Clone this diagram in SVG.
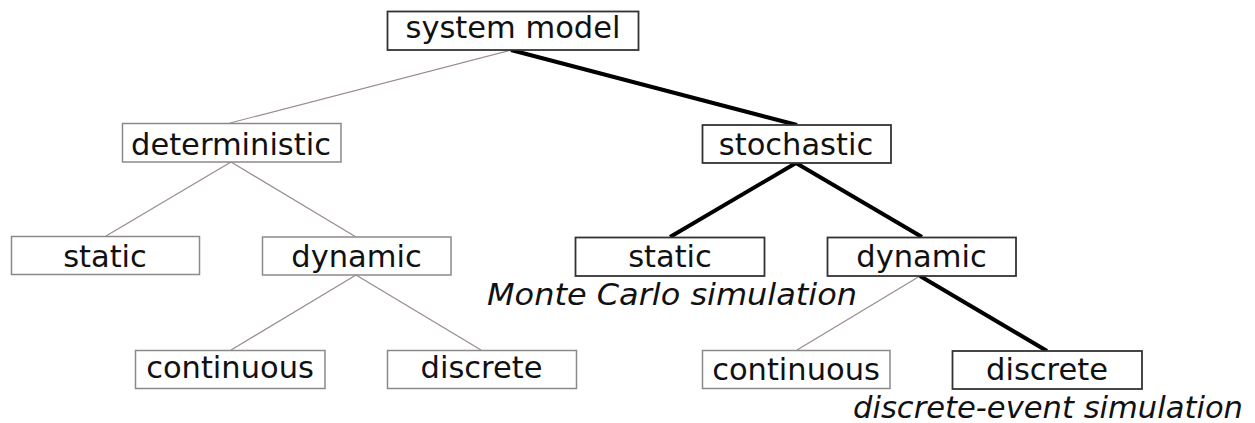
<svg xmlns="http://www.w3.org/2000/svg" width="1255" height="423" viewBox="0 0 1255 423">
<style>
.box{fill:#fff;stroke:#8a8a8a;stroke-width:1.5}
.dark{stroke:#333;stroke-width:1.8}
.lbl{font-family:"DejaVu Sans","Verdana",sans-serif;font-size:30.5px;fill:#111;text-anchor:middle}
.note{font-family:"DejaVu Sans","Verdana",sans-serif;font-size:30.5px;font-style:italic;fill:#111}
.thin{stroke:#9a8c8c;stroke-width:1.2;fill:none}
.thick{stroke:#000;stroke-width:4;fill:none;stroke-linecap:butt}
</style>
<rect width="1255" height="423" fill="#fff"/>
<g id="connectors">
<line class="thin" x1="511" y1="50" x2="230" y2="123"/>
<line class="thick" x1="511" y1="50" x2="797" y2="125"/>
<line class="thin" x1="231" y1="162" x2="106" y2="236"/>
<line class="thin" x1="231" y1="162" x2="356" y2="237"/>
<line class="thick" x1="796" y1="163" x2="670" y2="237"/>
<line class="thick" x1="796" y1="163" x2="922" y2="237"/>
<line class="thin" x1="356" y1="275" x2="231" y2="350"/>
<line class="thin" x1="356" y1="275" x2="481" y2="350"/>
<line class="thin" x1="920" y1="276" x2="797" y2="350"/>
<line class="thick" x1="920" y1="276" x2="1047" y2="351"/>
</g>
<g id="n-system-model">
<rect class="box dark" x="387.5" y="11.5" width="251" height="38.5"/>
<text class="lbl" x="513" y="38">system model</text>
</g>
<g id="n-deterministic">
<rect class="box" x="122.5" y="123.5" width="218.5" height="38.5"/>
<text class="lbl" x="231" y="155">deterministic</text>
</g>
<g id="n-stochastic">
<rect class="box dark" x="702.5" y="125" width="188.5" height="38"/>
<text class="lbl" x="796" y="155">stochastic</text>
</g>
<g id="n-static-det">
<rect class="box" x="11.5" y="236.5" width="188" height="38"/>
<text class="lbl" x="105" y="267">static</text>
</g>
<g id="n-dynamic-det">
<rect class="box" x="262.5" y="237" width="188.5" height="38"/>
<text class="lbl" x="356.5" y="267">dynamic</text>
</g>
<g id="n-static-sto">
<rect class="box dark" x="575.5" y="237.5" width="189" height="38.5"/>
<text class="lbl" x="670" y="267">static</text>
</g>
<g id="n-dynamic-sto">
<rect class="box dark" x="827.5" y="237.5" width="188.5" height="38.5"/>
<text class="lbl" x="921.5" y="267">dynamic</text>
</g>
<g id="n-continuous-det">
<rect class="box" x="135.5" y="350.5" width="189.5" height="38"/>
<text class="lbl" x="230" y="378">continuous</text>
</g>
<g id="n-discrete-det">
<rect class="box" x="387.5" y="350.5" width="189" height="38"/>
<text class="lbl" x="481.5" y="378">discrete</text>
</g>
<g id="n-continuous-sto">
<rect class="box" x="702.5" y="350.5" width="187.5" height="38"/>
<text class="lbl" x="796" y="380">continuous</text>
</g>
<g id="n-discrete-sto">
<rect class="box dark" x="952.5" y="351" width="189.5" height="38"/>
<text class="lbl" x="1047" y="380">discrete</text>
</g>
<g id="notes">
<text class="note" x="487" y="305" textLength="370" lengthAdjust="spacingAndGlyphs">Monte Carlo simulation</text>
<text class="note" x="853" y="418" textLength="390" lengthAdjust="spacingAndGlyphs">discrete-event simulation</text>
</g>
</svg>
